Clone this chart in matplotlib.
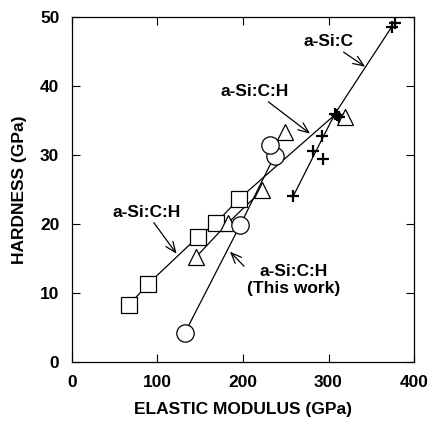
import matplotlib
matplotlib.use("Agg")
import matplotlib.pyplot as plt

plt.rcParams['font.family'] = ['Liberation Sans', 'DejaVu Sans']
plt.rcParams['font.weight'] = 'bold'
plt.rcParams['axes.labelweight'] = 'bold'

# a-Si:C:H literature (squares)
sq_E = [67, 89, 147, 168, 195]
sq_H = [8.3, 11.3, 18.1, 20.1, 23.6]
sq_line_E = [67, 89, 147, 168, 195, 309]
sq_line_H = [8.3, 11.3, 18.1, 20.1, 23.6, 36.0]

# triangles
tri_E = [145, 182, 222.5, 249, 319]
tri_H = [15.2, 20.1, 24.9, 33.4, 35.5]
tri_line_E = [145, 182, 222.5]
tri_line_H = [15.2, 20.1, 24.9]

# this work (circles)
circ_E = [132, 197, 237, 232]
circ_H = [4.2, 19.9, 29.9, 31.4]

# a-Si:C (plus)
plus_E = [259, 281.5, 293, 292, 307.6, 312.6, 310, 374, 377.8]
plus_H = [24.1, 30.6, 29.4, 32.8, 36.0, 35.5, 35.8, 48.6, 49.1]
plus_line_E = [259, 292, 307.6, 374]
plus_line_H = [24.1, 32.2, 36.0, 48.6]

fig = plt.figure(figsize=(4.3, 4.25), dpi=100)
ax = fig.add_axes([0.167, 0.148, 0.796, 0.812])

lw = 0.9
ax.plot(sq_line_E, sq_line_H, color='black', lw=lw, zorder=2)
ax.plot(tri_line_E, tri_line_H, color='black', lw=lw, zorder=2)
ax.plot(circ_E, circ_H, color='black', lw=lw, zorder=2)
ax.plot(plus_line_E, plus_line_H, color='black', lw=lw, zorder=2)

ax.plot(sq_E, sq_H, 's', ms=12, mfc='white', mec='black', mew=0.9, zorder=3)
ax.plot(tri_E, tri_H, '^', ms=12, mfc='white', mec='black', mew=0.9, zorder=3)
ax.plot(circ_E, circ_H, 'o', ms=12.5, mfc='white', mec='black', mew=0.9, zorder=3)
ax.plot(plus_E, plus_H, '+', ms=9, mec='black', mew=1.6, zorder=4)

arrow = dict(arrowstyle='->,head_length=0.6,head_width=0.25', color='black',
             lw=0.9, shrinkA=0, shrinkB=0)
fs = 12.5
ax.annotate('a-Si:C', xy=(342.7, 42.8), xytext=(300, 46.4), fontsize=fs,
            ha='center', va='center', arrowprops=arrow)
ax.annotate('a-Si:C:H', xy=(278.4, 33.1), xytext=(214, 39.2), fontsize=fs,
            ha='center', va='center', arrowprops=arrow)
ax.annotate('a-Si:C:H', xy=(122.4, 15.7), xytext=(87, 21.7), fontsize=fs,
            ha='center', va='center', arrowprops=arrow)
arrow2 = dict(arrow, relpos=(0.0, 0.85))
ax.annotate('a-Si:C:H\n(This work)', xy=(184.8, 16.0), xytext=(259, 11.9),
            fontsize=fs, ha='center', va='center', linespacing=1.1,
            arrowprops=arrow2)

ax.set_xlim(0, 400)
ax.set_ylim(0, 50)
ax.set_xticks([0, 100, 200, 300, 400])
ax.set_yticks([0, 10, 20, 30, 40, 50])
ax.tick_params(direction='in', length=6, width=0.8, top=True, right=True,
               labelsize=12.5, pad=9)
for s in ax.spines.values():
    s.set_linewidth(0.9)

ax.set_xlabel('ELASTIC MODULUS (GPa)', fontsize=12.5, labelpad=9)
ax.set_ylabel('HARDNESS (GPa)', fontsize=12.5, labelpad=9)

fig.savefig('out.png', dpi=100)
